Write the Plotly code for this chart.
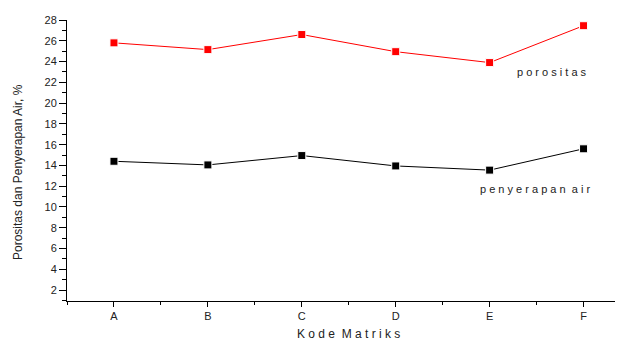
import plotly.graph_objects as go

categories = ["A", "B", "C", "D", "E", "F"]
porositas = [25.8, 25.15, 26.6, 24.95, 23.9, 27.45]
penyerapan_air = [14.4, 14.05, 14.95, 13.95, 13.55, 15.6]
y_ticks = list(range(2, 29, 2))

xpos = list(range(len(categories)))

# page body has an 8px default margin, so the figure is sized/offset to compensate
OFF = 8
W, H = 623 - OFF, 340 - OFF
L, T, B = 67 - OFF, 20 - OFF, 39
PW, PH = W - L, H - T - B

fig = go.Figure()
fig.add_trace(go.Scatter(
    x=xpos, y=porositas, mode="lines+markers", name="porositas",
    line=dict(color="#ff0000", width=1),
    marker=dict(symbol="square", size=8, color="#ff0000", line=dict(color="white", width=1)),
))
fig.add_trace(go.Scatter(
    x=xpos, y=penyerapan_air, mode="lines+markers", name="penyerapan air",
    line=dict(color="#000000", width=1),
    marker=dict(symbol="square", size=8, color="#000000", line=dict(color="white", width=1)),
))

fig.add_annotation(x=4.66, y=23.0, text="p o r o s i t a s", showarrow=False,
                   xanchor="center", yanchor="middle",
                   font=dict(family="Liberation Sans, Arial", size=11, color="#222222"))
fig.add_annotation(x=4.48, y=11.75, text="p e n y e r a p a n  a i r", showarrow=False,
                   xanchor="center", yanchor="middle",
                   font=dict(family="Liberation Sans, Arial", size=11, color="#222222"))

# axis titles placed as paper annotations
fig.add_annotation(xref="paper", yref="paper", x=(348 - 67) / PW, y=-(334 - 301) / PH,
                   text="K o d e  M a t r i k s", showarrow=False, xanchor="center", yanchor="middle",
                   font=dict(family="Liberation Sans, Arial", size=12, color="#222222"))
fig.add_annotation(xref="paper", yref="paper", x=(18 - 67) / PW, y=(301 - 172) / PH,
                   text="Porositas dan Penyerapan Air, %", showarrow=False, textangle=-90,
                   xanchor="center", yanchor="middle",
                   font=dict(family="Liberation Sans, Arial", size=12, color="#222222"))

fig.update_layout(
    width=W, height=H,
    margin=dict(l=L, r=0, t=T, b=B, autoexpand=False),
    plot_bgcolor="white", paper_bgcolor="white",
    showlegend=False,
    font=dict(family="Liberation Sans, Arial", size=11, color="#222222"),
    xaxis=dict(
        range=[-0.5, 5.42], tickvals=xpos, ticktext=categories, automargin=False,
        showgrid=False, zeroline=False, showline=True, linecolor="black", linewidth=1,
        ticks="outside", ticklen=5, tickcolor="black", tickwidth=1,
        minor=dict(tickvals=[-0.5, 0.5, 1.5, 2.5, 3.5, 4.5], ticks="outside",
                   ticklen=3, tickcolor="black"),
        tickfont=dict(size=11),
    ),
    yaxis=dict(
        range=[0.95, 28], tickvals=y_ticks, automargin=False,
        showgrid=False, zeroline=False, showline=True, linecolor="black", linewidth=1,
        ticks="outside", ticklen=7, tickcolor="black", tickwidth=1,
        minor=dict(dtick=1, tick0=0, ticks="outside", ticklen=4, tickcolor="black"),
        tickfont=dict(size=11),
    ),
)

fig.write_html("out.html")
